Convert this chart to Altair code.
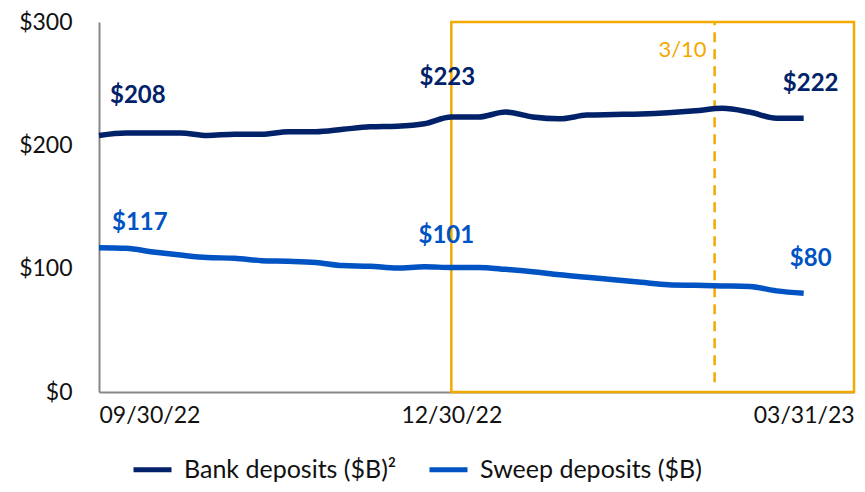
import altair as alt
import pandas as pd

# ---- data ----
week_dates = pd.date_range("2022-09-30", periods=27, freq="7D").strftime("%Y-%m-%dT00:00:00").tolist()
bank = [208, 210, 210, 210, 208, 209, 209, 211, 211, 213, 215, 215.5, 217.5, 223,
        223, 227, 223, 221.5, 224.5, 225, 225.5, 226.5, 228, 230, 227, 222, 222]
sweep = [117, 116.5, 113.5, 111, 109, 108.5, 106.5, 106, 105, 102.5, 102, 100.5, 101.5, 101,
         101, 99.5, 97.5, 95, 93, 91, 89, 87, 86.5, 86, 85.5, 82, 80]
series_names = ["Bank deposits ($B)\u00b2", "Sweep deposits ($B)"]
y_ticks = [0, 100, 200, 300]
x_tick_dates = [(2022, 9, 30), (2022, 12, 30), (2023, 3, 31)]

# value labels: series index, date, text
label_series = [0, 0, 0, 1, 1, 1]
label_dates = ["2022-09-30T00:00:00", "2022-12-30T00:00:00", "2023-03-31T00:00:00",
               "2022-09-30T00:00:00", "2022-12-30T00:00:00", "2023-03-31T00:00:00"]
label_values = [208, 223, 222, 117, 101, 80]

# highlight box and event line
box_start = "2022-12-30T00:00:00"
box_end = "2023-04-13T00:00:00"
event_date = "2023-03-08T00:00:00"
event_label = "3/10"

NAVY = "#012169"
BLUE = "#0053C2"
ORANGE = "#F2A900"
FONT = "Lato"

rows = []
for d, b, s in zip(week_dates, bank, sweep):
    rows.append({"date": d, "value": b, "series": series_names[0]})
    rows.append({"date": d, "value": s, "series": series_names[1]})
df = pd.DataFrame(rows)

x_scale = alt.Scale(domain=[alt.DateTime(year=2022, month=9, date=30),
                            alt.DateTime(year=2023, month=4, date=13)], nice=False)
y_scale = alt.Scale(domain=[0, 300], nice=False)

x_axis = alt.Axis(
    values=[alt.DateTime(year=y, month=m, date=d) for (y, m, d) in x_tick_dates],
    format="%m/%d/%y", title=None, grid=False, ticks=False,
    labelFont=FONT, labelFontSize=23, labelColor="#111111", labelPadding=12,
    domainColor="#888888", domainWidth=2, labelAngle=0,
)
y_axis = alt.Axis(
    values=y_ticks, labelExpr="'$' + datum.value", title=None, grid=False, ticks=False,
    labelFont=FONT, labelFontSize=23, labelColor="#111111", labelPadding=27,
    domainColor="#888888", domainWidth=2,
)

color = alt.Color(
    "series:N",
    scale=alt.Scale(domain=series_names, range=[NAVY, BLUE]),
    legend=alt.Legend(
        orient="none", legendX=32, legendY=426, direction="horizontal", title=None,
        symbolType="stroke", symbolStrokeWidth=5, symbolSize=1444,
        labelFont=FONT, labelFontSize=25, labelColor="#111111", labelLimit=400,
        columnPadding=22, labelOffset=10, padding=0,
    ),
)

lines = alt.Chart(df).mark_line(strokeWidth=5.5, interpolate="monotone").encode(
    x=alt.X("date:T", scale=x_scale, axis=x_axis),
    y=alt.Y("value:Q", scale=y_scale, axis=y_axis),
    color=color,
)

box_df = pd.DataFrame({"start": [box_start], "end": [box_end], "lo": [0], "hi": [300]})
box = alt.Chart(box_df).mark_rect(fill=None, fillOpacity=0, stroke=ORANGE, strokeWidth=2.5).encode(
    x="start:T", x2="end:T", y="lo:Q", y2="hi:Q",
)

ev_df = pd.DataFrame({"date": [event_date], "lo": [8], "hi": [300], "ty": [277], "label": [event_label]})
ev_rule = alt.Chart(ev_df).mark_rule(color=ORANGE, strokeWidth=2.5, strokeDash=[10, 7]).encode(
    x="date:T", y="lo:Q", y2="hi:Q",
)
ev_text = alt.Chart(ev_df).mark_text(color=ORANGE, font=FONT, fontSize=22, align="right",
                                     baseline="middle", dx=-8).encode(
    x="date:T", y="ty:Q", text="label:N",
)

# value labels with per-label offsets (style)
offsets = [(11, -39, "left"), (-4, -39, "center"), (7, -34, "center"),
           (13, -25, "left"), (-5, -31, "center"), (7, -34, "center")]
label_layers = []
for i in range(len(label_values)):
    ldf = pd.DataFrame({"date": [label_dates[i]], "value": [label_values[i]],
                        "text": ["$" + str(label_values[i])]})
    dx, dy, al = offsets[i]
    label_layers.append(
        alt.Chart(ldf).mark_text(font=FONT, fontSize=24, fontWeight="bold",
                                 color=[NAVY, BLUE][label_series[i]],
                                 align=al, baseline="middle", dx=dx, dy=dy).encode(
            x="date:T", y="value:Q", text="text:N")
    )

chart = alt.layer(box, ev_rule, ev_text, lines, *label_layers).properties(
    width=755, height=370,
    autosize=alt.AutoSizeParams(type="none"),
    padding={"left": 91, "top": 14, "right": 3, "bottom": 92},
).configure_view(stroke=None)

chart.save("out.html", embed_options={"renderer": "svg", "actions": False})
